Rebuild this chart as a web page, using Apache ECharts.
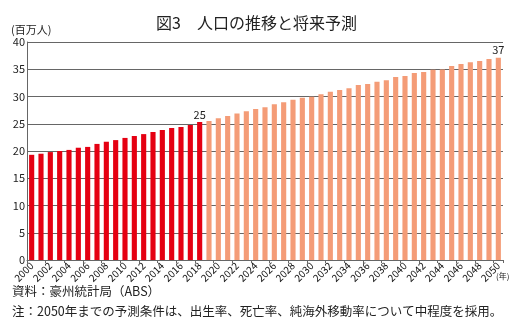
<!DOCTYPE html>
<html><head><meta charset="utf-8">
<script src="https://cdn.jsdelivr.net/npm/echarts@6/dist/echarts.min.js"></script>
<style>html,body{margin:0;padding:0;background:#fff}#c{width:513px;height:333px}</style>
</head><body><div id="c"></div>
<script>
const years = [];
for (let y = 2000; y <= 2050; y++) years.push(String(y));
const actual = [19.3,19.5,19.8,20.0,20.2,20.6,20.75,21.3,21.7,22.0,22.4,22.75,23.1,23.5,23.85,24.2,24.4,24.75,25.3];
const projected = [25.5,26.0,26.4,26.9,27.3,27.7,28.05,28.6,28.95,29.4,29.75,29.95,30.4,30.85,31.2,31.5,32.1,32.3,32.7,33.0,33.6,33.75,34.3,34.5,34.9,34.95,35.6,35.95,36.3,36.5,36.9,37.1];
const labelledYears = {'2018':'25','2050':'37'};
const title = '図3　人口の推移と将来予測';
const yUnit = '(百万人)';
const xUnit = '(年)';
const source = '資料：豪州統計局（ABS）';
const note = '注：2050年までの予測条件は、出生率、死亡率、純海外移動率について中程度を採用。';

const nA = actual.length;
function mk(vals, offset, color){
  const out = years.map(()=>null);
  vals.forEach((v,i)=>{
    const yr = years[i+offset];
    const item = {value:v};
    if (labelledYears[yr]) item.label = {show:true, position:'top', formatter:labelledYears[yr], distance:2};
    out[i+offset] = item;
  });
  return {type:'bar', stack:'s', data:out, barWidth:'55%', itemStyle:{color:color},
    label:{show:false, color:'#222', fontSize:11, fontFamily:'Liberation Sans Narrow, Noto Sans CJK JP'}};
}
const chart = echarts.init(document.getElementById('c'));
chart.setOption({
  animation:false,
  textStyle:{fontFamily:'Noto Sans CJK JP'},
  grid:{left:27,right:10,top:42,bottom:73},
  title:{text:title,left:'center',top:10,textStyle:{fontSize:16,fontWeight:'normal',color:'#222',fontFamily:'Noto Sans CJK JP'}},
  graphic:[
    {type:'text',left:11,top:24,style:{text:yUnit,fontSize:11,fill:'#222',fontFamily:'Noto Sans CJK JP'}},
    {type:'text',left:496,top:272,style:{text:xUnit,fontSize:8,fill:'#222',fontFamily:'Noto Sans CJK JP'}},
    {type:'text',left:12,top:285,style:{text:source,fontSize:12.5,fill:'#222',fontFamily:'Noto Sans CJK JP'}},
    {type:'text',left:12,top:305,style:{text:note,fontSize:12.5,fill:'#222',fontFamily:'Noto Sans CJK JP'}}
  ],
  xAxis:{type:'category',data:years,
    axisLine:{lineStyle:{color:'#666'}},
    axisTick:{show:true,length:3,lineStyle:{color:'#666'}},
    axisLabel:{interval:1,rotate:45,fontSize:10,color:'#111',margin:4,fontFamily:'Liberation Sans Narrow, Noto Sans CJK JP'}},
  yAxis:{type:'value',min:0,max:40,interval:5,
    axisLine:{show:true,lineStyle:{color:'#666'}},
    axisTick:{show:false},
    splitLine:{lineStyle:{color:'#666',width:1}},
    axisLabel:{fontSize:11,color:'#222',margin:2,fontFamily:'Liberation Sans Narrow, Noto Sans CJK JP'}},
  series:[mk(actual,0,'#e50012'), mk(projected,nA,'#f49c77')]
});
</script></body></html>
